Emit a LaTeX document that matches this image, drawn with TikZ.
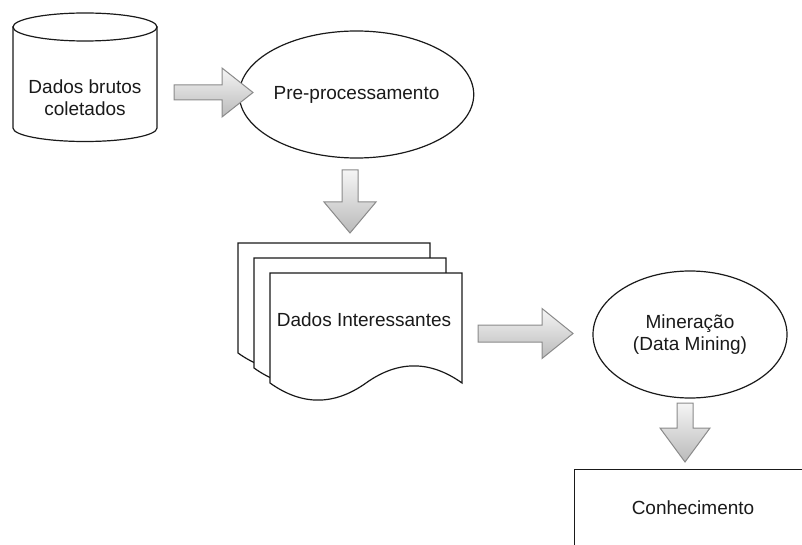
\documentclass[tikz,border=0pt]{standalone}
\usepackage{fontspec}
\setmainfont{Liberation Sans}
\usetikzlibrary{calc,shapes.geometric}

\definecolor{ink}{HTML}{1A1A1A}
\definecolor{arrowedge}{HTML}{8A8A8A}
\definecolor{arrowtop}{HTML}{F5F5F5}
\definecolor{arrowbottom}{HTML}{BABABA}

\tikzset{
  shapeline/.style={draw=ink, line width=1.2pt, fill=white},
  flowarrow/.style={draw=arrowedge, line width=1pt, top color=arrowtop,
    bottom color=arrowbottom, line join=miter},
  caption/.style={font=\fontsize{19}{22}\selectfont, align=center,
    inner sep=0pt, text=ink},
  % one sheet of the stacked document symbol, wavy lower edge
  docsheet/.pic={
    \path[shapeline] (0,0) -- (192,0) -- (192,110)
      .. controls (160,87.2) and (128,87.2) .. (96,110)
      .. controls (64,132.8) and (32,132.8) .. (0,110) -- cycle;
  }
}

% block arrow pointing right from #1 to #2
% #3 shaft half-width, #4 head half-width, #5 head length
\newcommand\rightblock[5]{%
  \path[flowarrow] let \p1=(#1), \p2=(#2) in
    (\x1,{\y1+#3}) -- ({\x2-#5},{\y1+#3}) -- ({\x2-#5},{\y1+#4}) -- (\x2,\y1)
    -- ({\x2-#5},{\y1-#4}) -- ({\x2-#5},{\y1-#3}) -- (\x1,{\y1-#3}) -- cycle;}

% block arrow pointing down from #1 to #2
\newcommand\downblock[5]{%
  \path[flowarrow] let \p1=(#1), \p2=(#2) in
    ({\x1-#3},\y1) -- ({\x1-#3},{\y2+#5}) -- ({\x1-#4},{\y2+#5}) -- (\x1,\y2)
    -- ({\x1+#4},{\y2+#5}) -- ({\x1+#3},{\y2+#5}) -- ({\x1+#3},\y1) -- cycle;}

\begin{document}
\begin{tikzpicture}[x=1pt, y=-1pt]
\useasboundingbox (0,0) rectangle (802,545);
\clip (0,0) rectangle (802,545);

% raw data store (cylinder)
\path[shapeline] (13,27) -- (13,128)
  .. controls (13,135.5) and (45.2,141.5) .. (85,141.5)
  .. controls (124.8,141.5) and (157,135.5) .. (157,128) -- (157,27) -- cycle;
\path[shapeline] (85,27) ellipse [x radius=72, y radius=14];
\node[caption] (raw) at (85,98) {Dados brutos\\coletados};

% pre-processing
\node[shapeline, ellipse, caption, minimum width=193pt, minimum height=127pt]
  (prep) at (356.5,94.5) {Pre-processamento};

% stack of interesting data documents
\pic at (238,243) {docsheet};
\pic at (254,258) {docsheet};
\pic at (270,273) {docsheet};
\node[caption] (data) at (364,320) {Dados Interessantes};

% mining
\node[shapeline, ellipse, caption, minimum width=194pt, minimum height=127pt]
  (mine) at (690,334.5) {Minera\c{c}\~ao\\(Data Mining)};

% knowledge
\node[shapeline, rectangle, anchor=north west, minimum width=240pt,
  minimum height=100pt] (know) at (574,469) {};
\node[caption] (knowtext) at (693,508) {Conhecimento};

% flow arrows
\coordinate (a1s) at (174,92.5);
\coordinate (a1e) at (253,92.5);
\rightblock{a1s}{a1e}{7.5pt}{24.5pt}{31pt}

\coordinate (a2s) at (350,170);
\coordinate (a2e) at (350,233);
\downblock{a2s}{a2e}{8pt}{26pt}{31pt}

\coordinate (a3s) at (478,333.5);
\coordinate (a3e) at (573,333.5);
\rightblock{a3s}{a3e}{8.5pt}{25pt}{31pt}

\coordinate (a4s) at (685,403);
\coordinate (a4e) at (685,462);
\downblock{a4s}{a4e}{8pt}{25pt}{34pt}
\end{tikzpicture}
\end{document}
